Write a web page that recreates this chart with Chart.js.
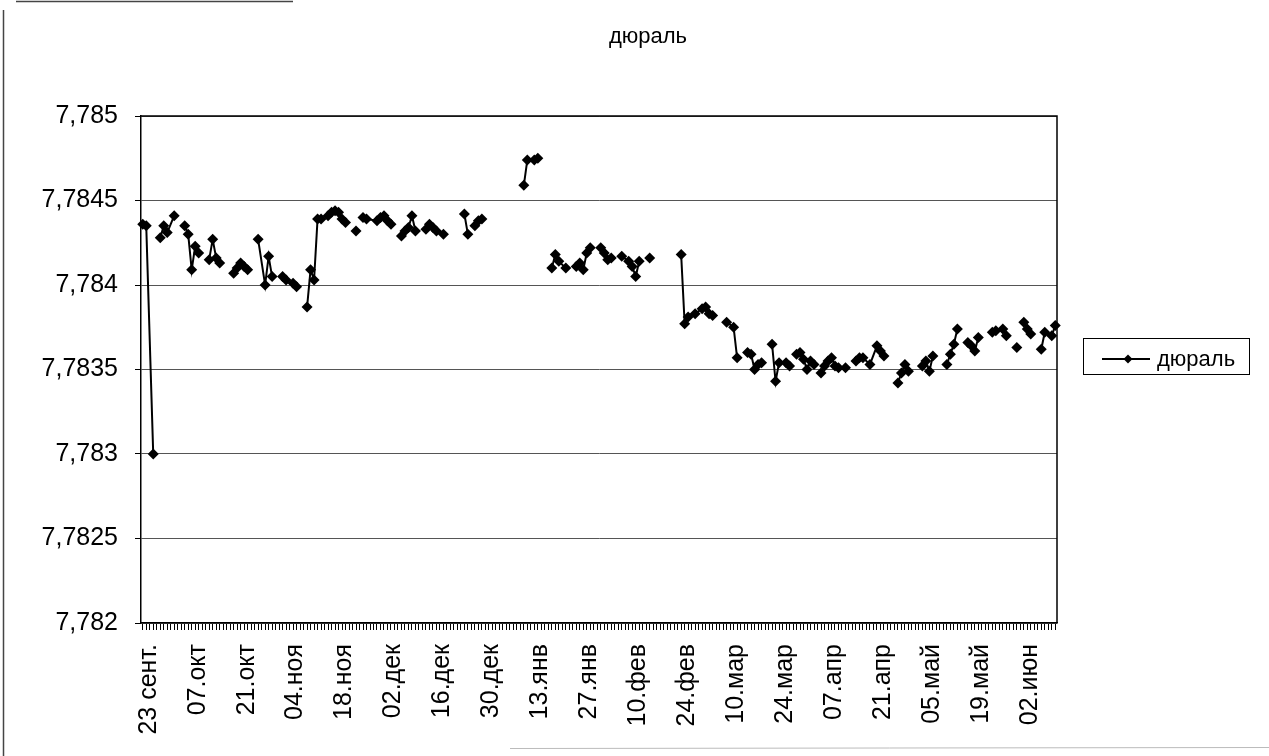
<!DOCTYPE html>
<html><head><meta charset="utf-8">
<script src="https://cdn.jsdelivr.net/npm/chart.js@4/dist/chart.umd.min.js"></script>
<style>html,body{margin:0;padding:0;background:#fff;} #wrap{position:relative;width:1269px;height:756px;} canvas{display:block;}</style>
</head><body><div id="wrap"><canvas id="c" width="1269" height="756"></canvas></div>
<script>
const seriesName = 'дюраль';
const chartTitle = 'дюраль';
// tick labels every 14 days starting 23 Sept
const tickLabels = ['23 сент.','07.окт','21.окт','04.ноя','18.ноя','02.дек','16.дек','30.дек','13.янв','27.янв','10.фев','24.фев','10.мар','24.мар','07.апр','21.апр','05.май','19.май','02.июн'];
const dayCount = 262;            // daily categories, 23 Sept .. 11 June
const yTicks = [7.782, 7.7825, 7.783, 7.7835, 7.784, 7.7845, 7.785];
// day offsets (from 23 Sept) of measurements; null value = empty cell (line break)
const measDays = [0,1,3,4,5,6,7,9,10,12,13,14,15,16,17,19,20,21,22,23,26,27,28,29,30,31,33,35,36,37,38,40,41,42,43,44,45,
 47,48,49,50,51,52,53,54,55,56,57,58,59,61,62,63,64,67,68,69,70,71,72,74,75,76,77,78,79,81,82,83,84,86,87,92,93,94,95,96,97,98,
 109,110,112,113,114,117,118,119,121,122,124,125,126,127,128,129,131,132,133,134,135,137,139,140,141,142,143,145,146,
 154,155,156,158,160,161,162,163,164,167,169,170,171,173,174,175,176,177,178,180,181,182,184,185,186,187,188,189,190,191,192,193,
 194,195,196,197,198,199,200,201,202,204,205,206,208,210,211,212,213,216,217,218,219,220,223,224,225,226,227,230,231,232,233,234,
 236,237,238,239,240,243,244,246,247,248,250,251,252,253,254,255,257,258,260,261];
const values = [7.78436,7.78435,7.7830,null,7.78428,7.78435,7.78431,7.78441,null,7.78435,7.7843,7.78409,7.78423,7.78419,null,
 7.78415,7.78427,7.78416,7.78413,null,7.78407,7.7841,7.78413,7.78411,7.78409,null,7.78427,7.7840,7.78417,7.78405,null,
 7.78405,7.78403,null,7.78401,7.78399,null,
 7.78387,7.78409,7.78403,7.78439,7.78439,null,7.78441,7.78443,7.78444,7.78443,7.78439,7.78437,null,7.78432,null,
 7.7844,7.78439,7.78438,7.7844,7.78441,7.78438,7.78436,null,7.78429,7.78432,7.78434,7.78441,7.78432,null,
 7.78433,7.78436,7.78434,7.78432,7.7843,null,7.78442,7.7843,null,7.78435,7.78438,7.78439,null,
 7.78459,7.78474,7.78474,7.78475,null,7.7841,7.78418,7.78414,7.7841,null,7.78411,7.78413,7.78409,7.78419,7.78422,null,
 7.78422,7.78419,7.78415,7.78416,null,7.78417,7.78414,7.78411,7.78405,7.78414,null,7.78416,null,
 7.78418,7.78377,7.78381,7.78383,7.78386,7.78387,7.78383,7.78382,null,7.78378,7.78375,7.78357,null,
 7.7836,7.78359,7.7835,7.78353,7.78354,null,7.78365,7.78343,7.78354,7.78354,7.78352,null,
 7.78359,7.7836,7.78356,7.7835,7.78355,7.78353,null,
 7.78348,7.78352,7.78355,7.78357,7.78352,7.78351,null,7.78351,null,7.78355,7.78357,7.78357,7.78353,7.78364,7.78361,7.78358,null,
 7.78342,7.78348,7.78353,7.78349,null,7.78352,7.78355,7.78349,7.78358,null,7.78353,7.78359,7.78365,7.78374,null,
 7.78366,7.78364,7.78361,7.78369,null,7.78372,7.78373,7.78374,7.7837,null,7.78363,null,7.78378,7.78374,7.78371,null,
 7.78362,7.78372,7.7837,7.78376];

const FONT = '"Liberation Sans", Arial, sans-serif';

const decor = {
  id: 'decor',
  beforeDatasetsDraw(chart) {
    const {ctx, chartArea: a} = chart;
    ctx.save();
    ctx.strokeStyle = '#000'; ctx.lineWidth = 1.5;
    ctx.beginPath();
    ctx.moveTo(a.left, a.top); ctx.lineTo(a.right, a.top); ctx.lineTo(a.right, a.bottom);
    ctx.stroke();
    ctx.restore();
  },
  afterDraw(chart) {
    const {ctx} = chart;
    ctx.save();
    // title
    ctx.fillStyle = '#000';
    ctx.font = '22px ' + FONT;
    ctx.textAlign = 'center'; ctx.textBaseline = 'middle';
    ctx.fillText(chartTitle, 648, 37);
    // legend
    ctx.strokeStyle = '#000'; ctx.lineWidth = 1;
    ctx.strokeRect(1083.5, 338.5, 166, 36);
    const ly = 359;
    ctx.lineWidth = 2;
    ctx.beginPath(); ctx.moveTo(1102, ly); ctx.lineTo(1150, ly); ctx.stroke();
    ctx.beginPath();
    ctx.moveTo(1128, ly - 4.5); ctx.lineTo(1132.5, ly); ctx.lineTo(1128, ly + 4.5); ctx.lineTo(1123.5, ly); ctx.closePath();
    ctx.fill();
    ctx.textAlign = 'left'; ctx.textBaseline = 'middle';
    ctx.fillText(seriesName, 1157, ly + 1);
    // page frame lines (scan)
    ctx.strokeStyle = '#444'; ctx.lineWidth = 1.5;
    ctx.beginPath(); ctx.moveTo(3.5, 10); ctx.lineTo(3.5, 756); ctx.stroke();
    ctx.beginPath(); ctx.moveTo(16, 1.5); ctx.lineTo(293, 1.5); ctx.stroke();
    ctx.strokeStyle = '#bbb'; ctx.lineWidth = 1;
    ctx.beginPath(); ctx.moveTo(510, 748.5); ctx.lineTo(1269, 747.5); ctx.stroke();
    ctx.restore();
  }
};

new Chart(document.getElementById('c'), {
  type: 'line',
  data: {
    datasets: [{
      label: seriesName,
      data: measDays.map((d, i) => ({x: d, y: values[i]})),
      borderColor: '#000', borderWidth: 2,
      pointStyle: 'rectRot', pointRadius: 5.5,
      pointBackgroundColor: '#000', pointBorderColor: '#000', pointBorderWidth: 0,
      tension: 0, spanGaps: false, clip: false
    }]
  },
  options: {
    responsive: false, animation: false,
    layout: {padding: {top: 116, right: 212, left: 0, bottom: 0}},
    plugins: {legend: {display: false}, title: {display: false}, tooltip: {enabled: false}},
    scales: {
      x: {
        type: 'linear', min: -0.5, max: dayCount - 0.5,
        afterBuildTicks: s => { s.ticks = Array.from({length: dayCount}, (_, i) => ({value: i})); },
        afterFit: s => { s.height = 133; },
        grid: {drawOnChartArea: false, drawTicks: true, tickLength: 7, color: '#000', tickColor: '#000', lineWidth: 1},
        border: {display: true, color: '#000', width: 1.5},
        ticks: {autoSkip: false, minRotation: 90, maxRotation: 90, padding: 14, labelOffset: 6, color: '#000',
          font: {family: FONT, size: 25},
          callback: v => (v % 14 === 0 ? tickLabels[v / 14] : '')}
      },
      y: {
        min: 7.782, max: 7.785,
        afterBuildTicks: s => { s.ticks = yTicks.map(v => ({value: v})); },
        afterFit: s => { s.width = 141; },
        grid: {color: '#555', tickColor: '#000', lineWidth: 1, tickLength: 6, drawTicks: true},
        border: {display: true, color: '#000', width: 1.5},
        ticks: {padding: 17, color: '#000', font: {family: FONT, size: 25},
          callback: v => String(+(+v).toFixed(4)).replace('.', ',')}
      }
    }
  },
  plugins: [decor]
});
</script></body></html>
